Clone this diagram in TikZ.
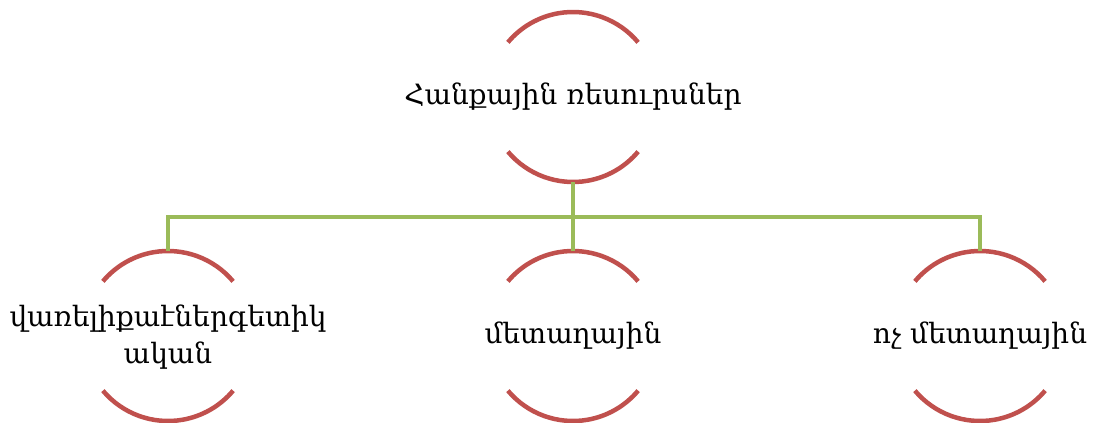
\documentclass[tikz,border=0pt]{standalone}
\usepackage{fontspec}
\setmainfont{DejaVu Serif}
\definecolor{rimred}{HTML}{C0504D}
\definecolor{linkgreen}{HTML}{9BBB59}
\tikzset{
  ring/.style={circle, minimum size=170pt, inner sep=0pt, outer sep=0pt},
  rim/.style={draw=rimred, line width=4.5pt},
  link/.style={draw=linkgreen, line width=4pt},
  caption/.style={font=\fontsize{28}{37}\selectfont, align=center, text=black}
}
\begin{document}
\begin{tikzpicture}[x=1pt, y=1pt]
  \useasboundingbox (0,0) rectangle (1095,423);
  % circles
  \node[ring] (top) at (573,326) {};
  \node[ring] (left) at (168,87) {};
  \node[ring] (mid) at (573,87) {};
  \node[ring] (right) at (980,87) {};
  \foreach \n in {top,left,mid,right} {
    \draw[rim] (\n.40) arc (40:140:85pt);
    \draw[rim] (\n.220) arc (220:320:85pt);
  }
  % texts
  \node[caption] (toptext) at (top) {Հանքային ռեսուրսներ};
  \node[caption] (lefttext) at ([yshift=-1pt]left) {վառելիքաէներգետիկ\\ական};
  \node[caption] (midtext) at (mid) {մետաղային};
  \node[caption] (righttext) at (right) {ոչ մետաղային};
  % connectors
  \coordinate (jn) at (573,206);
  \draw[link] (top.south) -- (jn);
  \draw[link] (left.north) |- (jn) -| (right.north);
  \draw[link] (jn) -- (mid.north);
\end{tikzpicture}
\end{document}
